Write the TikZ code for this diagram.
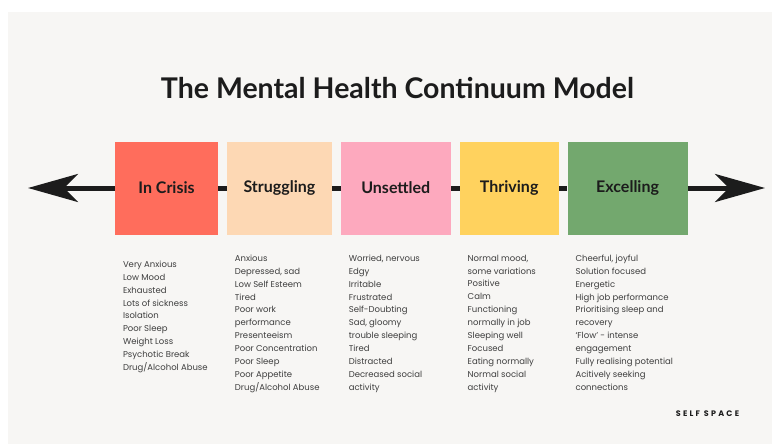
\documentclass[tikz,border=0pt]{standalone}
\usepackage{fontspec}
\setmainfont{Poppins}
\newfontfamily\headfont{Lato}
\usepackage{tikz}
\usetikzlibrary{arrows.meta,positioning}
\definecolor{paper}{HTML}{F7F6F4}
\definecolor{ink}{HTML}{1C1C1C}
\definecolor{bodyink}{HTML}{3E3E3E}
\definecolor{crisisred}{HTML}{FF6D5C}
\definecolor{peach}{HTML}{FDD8B4}
\definecolor{pink}{HTML}{FDA9BE}
\definecolor{sun}{HTML}{FFD25E}
\definecolor{leaf}{HTML}{73A86E}

\begin{document}
\begin{tikzpicture}[x=1pt,y=-1pt,node distance=8.5pt,every node/.style={inner sep=0pt},stage/.style={fill=#1,minimum height=93pt,font=\headfont\bfseries\fontsize{16}{18}\selectfont,text=ink},notes/.style={align=left,anchor=north west,font=\fontsize{8.5}{12.9}\selectfont,text=bodyink},link/.style={line width=5pt,ink}]
\fill[white] (0,0) rectangle (772,444);
\fill[paper] (8,12) rectangle (772,444);
\node[font=\headfont\bfseries\fontsize{28.5}{32}\selectfont,text=ink] (title) at (397.5,88) {The Mental Health Continuum Model};
\node[stage=crisisred,minimum width=103pt] (crisis) at (166.5,188) {In Crisis};
\node[stage=peach,minimum width=105pt,right=of crisis] (struggling) {Struggling};
\node[stage=pink,minimum width=110pt,right=of struggling] (unsettled) {Unsettled};
\node[stage=sun,minimum width=99pt,right=of unsettled] (thriving) {Thriving};
\node[stage=leaf,minimum width=120pt,right=of thriving] (excelling) {Excelling};
\coordinate (lefttip) at (28,188);
\coordinate (righttip) at (765,188);
\draw[link,-{Stealth[length=50pt,width=28pt,inset=14pt]}] (crisis.west)--(lefttip);
\draw[link] (crisis)--(struggling);
\draw[link] (struggling)--(unsettled);
\draw[link] (unsettled)--(thriving);
\draw[link] (thriving)--(excelling);
\draw[link,-{Stealth[length=50pt,width=28pt,inset=14pt]}] (excelling.east)--(righttip);
\node[notes,below right=26pt and 8pt of crisis.south west] (crisisnotes) {Very Anxious\\Low Mood\\Exhausted\\Lots of sickness\\Isolation\\Poor Sleep\\Weight Loss\\Psychotic Break\\Drug/Alcohol Abuse};
\node[notes,below right=20pt and 8pt of struggling.south west] (strugglingnotes) {Anxious\\Depressed, sad\\Low Self Esteem\\Tired\\Poor work\\performance\\Presenteeism\\Poor Concentration\\Poor Sleep\\Poor Appetite\\Drug/Alcohol Abuse};
\node[notes,below right=20pt and 8pt of unsettled.south west] (unsettlednotes) {Worried, nervous\\Edgy\\Irritable\\Frustrated\\Self-Doubting\\Sad, gloomy\\trouble sleeping\\Tired\\Distracted\\Decreased social\\activity};
\node[notes,below right=20pt and 8pt of thriving.south west] (thrivingnotes) {Normal mood,\\some variations\\Positive\\Calm\\Functioning\\normally in job\\Sleeping well\\Focused\\Eating normally\\Normal social\\activity};
\node[notes,below right=20pt and 8pt of excelling.south west] (excellingnotes) {Cheerful, joyful\\Solution focused\\Energetic\\High job performance\\Prioritising sleep and\\recovery\\`Flow' - intense\\engagement\\Fully realising potential\\Acitively seeking\\connections};
\node[font=\bfseries\fontsize{8}{10}\selectfont\addfontfeature{LetterSpace=28},text=ink] (brand) at (707.5,414) {SELF SPACE};
\end{tikzpicture}
\end{document}
